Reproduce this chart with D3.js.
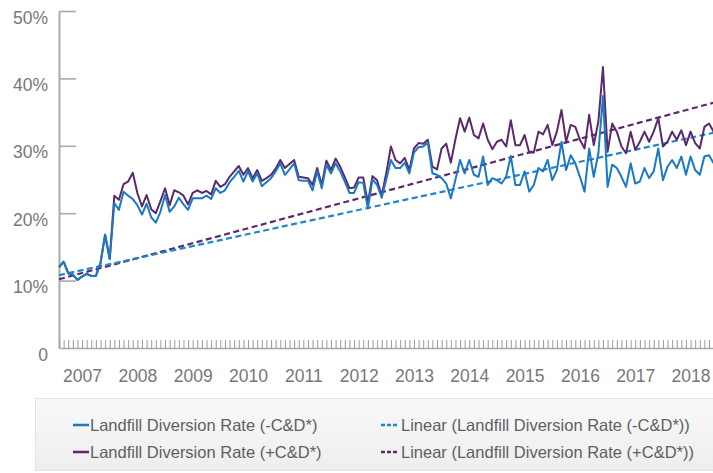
<!DOCTYPE html>
<html><head><meta charset="utf-8">
<script src="https://cdn.jsdelivr.net/npm/d3@7"></script>
<style>
html,body{margin:0;padding:0;background:#fff;overflow:hidden}
text{font-family:"Liberation Sans",Arial,sans-serif}
</style>
</head><body>
<svg id="chart" width="713" height="473"></svg>
<script>
// Monthly categories, Jan 2007 – Nov 2018
const categories = d3.range(143).map(i => `${2007 + Math.floor(i / 12)}-${String(i % 12 + 1).padStart(2, "0")}`);
const yearLabels = ["2007","2008","2009","2010","2011","2012","2013","2014","2015","2016","2017","2018"];
const yTicks = [0, 10, 20, 30, 40, 50];
const yTickLabels = ["0", "10%", "20%", "30%", "40%", "50%"];

// Landfill diversion rate excluding construction & demolition (%)
const rateMinusCD = [
  12.0,12.8,11.1,10.9,10.1,10.6,11.0,10.7,10.7,12.6,16.8,13.2,
  21.5,20.5,23.2,22.6,22.1,21.2,19.8,21.4,19.4,18.6,20.2,22.7,
  20.2,21.0,22.3,21.3,20.5,22.2,22.2,22.2,22.6,22.1,23.7,23.0,
  23.4,24.6,25.4,26.3,24.7,26.2,24.7,25.9,24.0,24.6,25.2,26.2,
  27.4,25.7,26.5,27.4,24.9,24.8,24.8,23.4,26.2,23.7,27.2,25.9,
  27.4,26.2,24.7,23.0,23.0,24.6,24.5,20.7,25.0,24.2,22.3,25.0,
  27.9,26.7,26.7,27.5,25.9,29.0,29.8,29.9,30.5,25.9,25.7,25.2,
  24.4,22.2,25.0,27.9,25.9,27.9,25.7,25.4,28.4,24.2,25.2,24.9,
  24.4,25.4,28.5,24.2,24.2,26.2,23.2,24.2,26.7,26.2,27.9,24.9,
  26.4,30.6,26.4,28.6,27.4,25.4,23.2,29.6,25.4,28.9,37.4,23.9,
  27.2,26.7,25.4,23.9,27.4,24.4,24.7,26.7,25.2,26.2,29.6,24.9,
  26.9,27.9,26.7,28.4,25.7,28.4,26.4,25.7,28.4,28.6,27.4
];
// Landfill diversion rate including construction & demolition (%)
const ratePlusCD = [
  12.0,12.8,11.1,10.9,10.1,10.6,11.0,10.7,10.7,12.6,16.8,13.2,
  22.6,22.0,24.3,24.7,26.0,23.0,21.0,22.7,20.6,20.0,21.8,23.7,
  21.2,23.4,23.1,22.6,21.3,23.0,23.4,23.0,23.3,22.8,24.8,23.9,
  24.3,25.4,26.2,27.0,25.7,26.7,25.2,26.4,24.8,25.2,25.7,26.6,
  27.9,26.7,27.3,27.9,25.4,25.3,25.2,24.2,26.7,24.2,27.8,26.4,
  28.1,26.9,25.3,23.7,23.8,25.3,25.3,21.5,25.5,24.9,22.6,26.0,
  29.9,27.9,27.4,28.2,26.4,29.6,30.4,30.3,30.9,26.9,26.5,29.6,
  30.3,27.5,31.0,34.1,32.1,34.2,31.6,31.1,33.3,30.9,29.5,30.6,
  30.9,29.9,33.8,30.1,30.1,31.6,29.0,29.0,32.1,31.7,33.1,30.1,
  32.1,35.3,30.6,33.1,32.8,30.9,29.6,34.6,30.1,33.6,41.7,29.1,
  33.3,32.1,29.9,28.9,32.1,29.4,30.6,32.1,30.6,32.1,34.1,29.9,
  30.6,32.1,30.9,32.3,30.1,32.1,30.4,29.6,32.8,33.3,32.1
];
// Linear trendline end points (%)
const trendCategories = ["2007-01", "2018-11"];
const trendMinusCD = [10.8, 31.95];
const trendPlusCD = [10.2, 36.4];

const seriesNames = [
  "Landfill Diversion Rate (-C&D*)",
  "Landfill Diversion Rate (+C&D*)",
  "Linear (Landfill Diversion Rate (-C&D*))",
  "Linear (Landfill Diversion Rate (+C&D*))"
];
const BLUE = "#1b78c2", PURPLE = "#5a2a6c";
const AXIS = "#a9a9a9", LABEL = "#777";

const svg = d3.select("#chart");
const x = d3.scalePoint().domain(categories).range([59, 59 + 142 * 4.61]);
const y = d3.scaleLinear().domain([0, 50]).range([348, 11]);

// Y axis with inward ticks
const yAxis = svg.append("g").attr("transform", "translate(59,0)")
  .call(d3.axisLeft(y).tickValues(yTicks).tickSize(-17).tickSizeOuter(0).tickPadding(11)
    .tickFormat((d, i) => yTickLabels[i]));
yAxis.select(".domain").attr("stroke", AXIS).attr("stroke-width", 2);
yAxis.selectAll(".tick line").attr("stroke", AXIS).attr("stroke-width", 1.6)
  .filter(d => d === 0).remove();
yAxis.selectAll(".tick text").attr("fill", LABEL).attr("font-size", 17.5)
  .attr("dy", "0.32em").attr("transform", "translate(0,6.5)");

// X axis: monthly tick marks pointing up
const xAxis = svg.append("g").attr("transform", "translate(0,348)")
  .call(d3.axisBottom(x).tickValues(categories).tickSize(-8).tickSizeOuter(0).tickFormat(""));
xAxis.select(".domain").attr("stroke", AXIS).attr("stroke-width", 1.6);
xAxis.selectAll(".tick line").attr("stroke", "#9a9a9a").attr("stroke-width", 1);

// Year labels at mid-year
const yearAxis = svg.append("g").attr("transform", "translate(0,348)")
  .call(d3.axisBottom(x).tickValues(yearLabels.map(yr => `${yr}-06`)).tickSize(0).tickPadding(28)
    .tickFormat(c => c.slice(0, 4)));
yearAxis.select(".domain").remove();
yearAxis.selectAll(".tick text").attr("fill", LABEL).attr("font-size", 17.5).attr("dy", "0.32em");

const line = d3.line().x(d => x(d[0])).y(d => y(d[1]));
const plot = svg.append("g");

// Trendlines
plot.append("path").datum(trendCategories.map((c, i) => [c, trendPlusCD[i]]))
  .attr("d", line).attr("fill", "none").attr("stroke", PURPLE).attr("stroke-width", 2.2)
  .attr("stroke-dasharray", "6,3.5");
plot.append("path").datum(trendCategories.map((c, i) => [c, trendMinusCD[i]]))
  .attr("d", line).attr("fill", "none").attr("stroke", "#1f86cf").attr("stroke-width", 2.2)
  .attr("stroke-dasharray", "6,3.5");

// Series lines
plot.append("path").datum(categories.map((c, i) => [c, ratePlusCD[i]]))
  .attr("d", line).attr("fill", "none").attr("stroke", PURPLE).attr("stroke-width", 2)
  .attr("stroke-linejoin", "round");
plot.append("path").datum(categories.map((c, i) => [c, rateMinusCD[i]]))
  .attr("d", line).attr("fill", "none").attr("stroke", BLUE).attr("stroke-width", 2)
  .attr("stroke-linejoin", "round");

// Legend
const defs = svg.append("defs");
const grad = defs.append("linearGradient").attr("id", "legendBg").attr("x1", 0).attr("y1", 0).attr("x2", 0).attr("y2", 1);
grad.append("stop").attr("offset", "0%").attr("stop-color", "#f9f9f9");
grad.append("stop").attr("offset", "100%").attr("stop-color", "#eeeeee");
const legend = svg.append("g");
legend.append("rect").attr("x", 35.5).attr("y", 398.5).attr("width", 700).attr("height", 72)
  .attr("fill", "url(#legendBg)").attr("stroke", "#e2e2e2");

const legendItems = [
  { name: seriesNames[0], color: BLUE, dash: null, col: 0, row: 0 },
  { name: seriesNames[2], color: "#1f86cf", dash: "4,2", col: 1, row: 0 },
  { name: seriesNames[1], color: PURPLE, dash: null, col: 0, row: 1 },
  { name: seriesNames[3], color: PURPLE, dash: "4,2", col: 1, row: 1 }
];
const colX = [73, 381], rowY = [425, 452];
const li = legend.selectAll("g.item").data(legendItems).join("g").attr("class", "item")
  .attr("transform", d => `translate(${colX[d.col]},${rowY[d.row]})`);
li.append("line").attr("x1", 0).attr("x2", 16).attr("y1", 0).attr("y2", 0)
  .attr("stroke", d => d.color).attr("stroke-width", 2.5)
  .attr("stroke-dasharray", d => d.dash);
li.append("text").attr("x", d => d.dash ? 20 : 17).attr("y", 0).attr("dy", "0.35em")
  .attr("fill", "#5f5f5f").attr("font-size", 16.5).text(d => d.name);
</script>
</body></html>
